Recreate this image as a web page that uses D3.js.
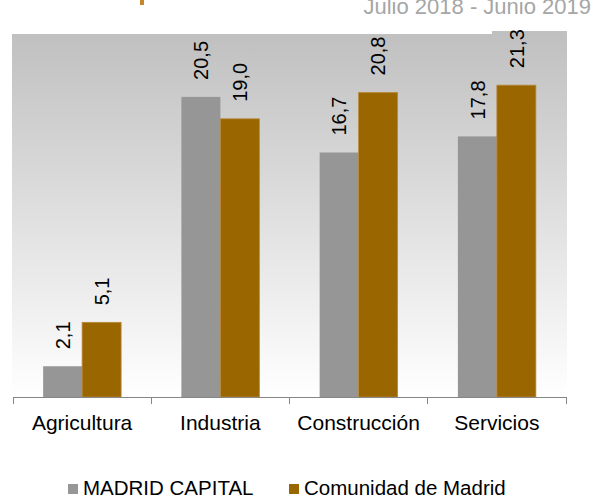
<!DOCTYPE html>
<html lang="es">
<head>
  <meta charset="utf-8">
  <script src="https://d3js.org/d3.v7.min.js"></script>
  <style>
    body { margin: 0; background: #fff; }
    svg text { font-family: "Liberation Sans", Arial, sans-serif; }
    .axis path, .axis line { stroke: #868686; fill: none; shape-rendering: crispEdges; }
  </style>
</head>
<body>
<svg id="chart" width="594" height="497"></svg>
<script>
  // Data
  const categories = ["Agricultura", "Industria", "Construcción", "Servicios"];
  const series = ["MADRID CAPITAL", "Comunidad de Madrid"];
  const madridCapital = [2.1, 20.5, 16.7, 17.8];
  const comunidad = [5.1, 19.0, 20.8, 21.3];
  const colors = ["#969696", "#996600"];
  const subtitle = "Julio 2018 - Junio 2019";

  const data = categories.map((c, i) => ({
    cat: c,
    values: [madridCapital[i], comunidad[i]]
  }));

  const svg = d3.select("#chart");
  const fmt = v => d3.format(".1f")(v).replace(".", ",");

  // plot area
  const x0 = 13, x1 = 566, yBase = 397;

  const x = d3.scaleBand().domain(categories).range([x0, x1]);
  const bw = x.bandwidth();
  const xSub = d3.scaleBand().domain(series).range([bw * 0.218, bw * 0.782]);
  const y = d3.scaleLinear().domain([0, 25]).range([yBase, 31]);

  // gradient background
  const grad = svg.append("defs").append("linearGradient")
    .attr("id", "bg").attr("x1", 0).attr("y1", 0).attr("x2", 0).attr("y2", 1);
  grad.append("stop").attr("offset", "0%").attr("stop-color", "#c0c0c0");
  grad.append("stop").attr("offset", "100%").attr("stop-color", "#ffffff");

  svg.append("rect")
    .attr("x", 12).attr("y", 34)
    .attr("width", 555).attr("height", yBase - 34)
    .attr("fill", "url(#bg)");
  // label box behind the last label
  svg.append("rect")
    .attr("x", 492).attr("y", 31).attr("width", 75).attr("height", 4)
    .attr("fill", "#c0c0c0");

  // titles (cut at the top of the picture)
  svg.append("rect").attr("x", 140).attr("y", 0).attr("width", 4).attr("height", 5).attr("fill", "#c8862a");
  svg.append("text")
    .attr("x", 591).attr("y", 14)
    .attr("text-anchor", "end")
    .attr("font-size", 22)
    .attr("fill", "#a6a6a6")
    .text(subtitle);

  // bars
  const groups = svg.selectAll(".grp")
    .data(data)
    .join("g")
    .attr("class", "grp")
    .attr("transform", d => `translate(${x(d.cat)},0)`);

  groups.selectAll("rect")
    .data(d => d.values.map((v, i) => ({ s: series[i], v: v, i: i })))
    .join("rect")
    .attr("x", d => xSub(d.s))
    .attr("y", d => y(d.v))
    .attr("width", xSub.bandwidth())
    .attr("height", d => yBase - y(d.v))
    .attr("fill", d => colors[d.i])
    .attr("stroke", d => d.i === 1 ? "#b8893a" : "none")
    .attr("stroke-width", 0.8);

  groups.selectAll("text")
    .data(d => d.values.map((v, i) => ({ s: series[i], v: v, i: i })))
    .join("text")
    .attr("transform", d => `translate(${xSub(d.s) + xSub.bandwidth() / 2},${y(d.v) - 17}) rotate(-90)`)
    .attr("dy", "0.36em")
    .attr("font-size", 20)
    .attr("fill", "#000")
    .text(d => fmt(d.v));

  // x axis
  const axis = svg.append("g")
    .attr("class", "axis")
    .attr("transform", `translate(0,${yBase})`);
  axis.append("line").attr("x1", x0).attr("x2", x1).attr("y1", 0).attr("y2", 0);
  axis.selectAll(".tick")
    .data(categories.map(c => x(c)).concat([x1]))
    .join("line")
    .attr("x1", d => d).attr("x2", d => d)
    .attr("y1", 0).attr("y2", 7);
  axis.selectAll(".lbl")
    .data(categories)
    .join("text")
    .attr("class", "lbl")
    .attr("x", d => x(d) + bw / 2)
    .attr("y", 33)
    .attr("text-anchor", "middle")
    .attr("font-size", 21)
    .attr("fill", "#000")
    .text(d => d);

  // legend
  const legendX = [68, 289];
  const legend = svg.selectAll(".leg")
    .data(series)
    .join("g")
    .attr("class", "leg")
    .attr("transform", (d, i) => `translate(${legendX[i]},484)`);
  legend.append("rect").attr("width", 10).attr("height", 10).attr("fill", (d, i) => colors[i]);
  legend.append("text").attr("x", 15).attr("y", 11).attr("font-size", 20.5).attr("fill", "#000").text(d => d);
</script>
</body>
</html>
